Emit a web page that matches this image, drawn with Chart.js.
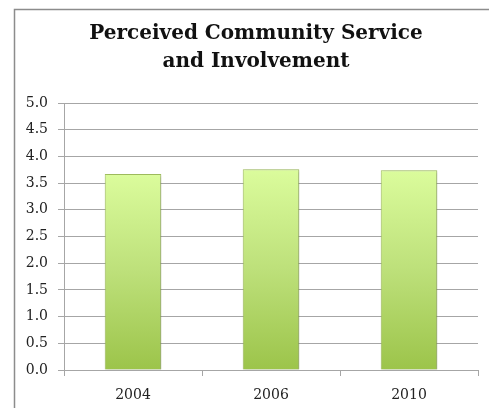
<!DOCTYPE html>
<html>
<head>
<meta charset="utf-8">
<script src="https://cdn.jsdelivr.net/npm/chart.js@4/dist/chart.umd.min.js"></script>
<style>
  html, body { margin: 0; padding: 0; background: #fff; }
  #wrap { position: relative; width: 489px; height: 408px; }
</style>
</head>
<body>
<div id="wrap"><canvas id="serviceChart"></canvas></div>
<script>
const years = ["2004", "2006", "2010"];
const scores = [3.67, 3.76, 3.74];
const titleLines = ["Perceived Community Service", "and Involvement"];

// frame (top and left edges) plus the two-line title, centred on the frame
const framePlugin = {
  id: "frame",
  beforeDraw(chart) {
    const c = chart.ctx;
    c.save();
    c.strokeStyle = "#8c8c8c";
    c.lineWidth = 1.5;
    c.beginPath();
    c.moveTo(14.5, chart.height);
    c.lineTo(14.5, 9.5);
    c.lineTo(chart.width, 9.5);
    c.stroke();

    c.fillStyle = "#111";
    c.font = "bold 20px 'DejaVu Serif'";
    c.textAlign = "center";
    c.textBaseline = "alphabetic";
    titleLines.forEach(function (line, i) {
      c.fillText(line, 256, 39 + i * 28);
    });
    c.restore();
  },
};

// soft drop shadow under the bars
const barShadow = {
  id: "barShadow",
  beforeDatasetsDraw(chart) {
    const c = chart.ctx;
    c.save();
    c.shadowColor = "rgba(0, 0, 0, 0.22)";
    c.shadowBlur = 3;
    c.shadowOffsetX = 1.5;
    c.shadowOffsetY = 1;
  },
  afterDatasetsDraw(chart) {
    chart.ctx.restore();
  },
};

function barGradient(context) {
  const chart = context.chart;
  const area = chart.chartArea;
  if (!area) return "#bde07a";
  const top = chart.scales.y.getPixelForValue(context.raw);
  const g = chart.ctx.createLinearGradient(0, top, 0, area.bottom);
  g.addColorStop(0, "#dbfc9c");
  g.addColorStop(0.5, "#bde07a");
  g.addColorStop(1, "#9cc44a");
  return g;
}

const ctx = document.getElementById("serviceChart");
const serviceChart = new Chart(ctx, {
  type: "bar",
  data: {
    labels: years,
    datasets: [
      {
        label: "",
        data: scores,
        backgroundColor: barGradient,
        borderColor: "#a3c160",
        borderWidth: 1,
        categoryPercentage: 1,
        barPercentage: 0.41,
      },
    ],
  },
  options: {
    responsive: true,
    maintainAspectRatio: false,
    animation: false,
    layout: {
      padding: { left: 0, right: 11, top: 103, bottom: 0 },
    },
    scales: {
      y: {
        min: 0,
        max: 5,
        afterFit: function (scale) {
          scale.width = 64;
        },
        ticks: {
          stepSize: 0.5,
          padding: 10,
          color: "#222",
          font: { family: "DejaVu Serif", size: 14 },
          callback: function (value) {
            return value.toFixed(1);
          },
        },
        grid: {
          color: "#a6a6a6",
          tickLength: 6,
        },
        border: { color: "#a6a6a6" },
      },
      x: {
        afterFit: function (scale) {
          scale.height = 38;
        },
        ticks: {
          padding: 11,
          color: "#222",
          font: { family: "DejaVu Serif", size: 14 },
        },
        grid: {
          offset: true,
          drawOnChartArea: false,
          color: "#a6a6a6",
          tickLength: 6,
        },
        border: { color: "#a6a6a6" },
      },
    },
    plugins: {
      legend: { display: false },
      tooltip: { enabled: false },
      title: { display: false },
    },
  },
  plugins: [framePlugin, barShadow],
});
</script>
</body>
</html>
